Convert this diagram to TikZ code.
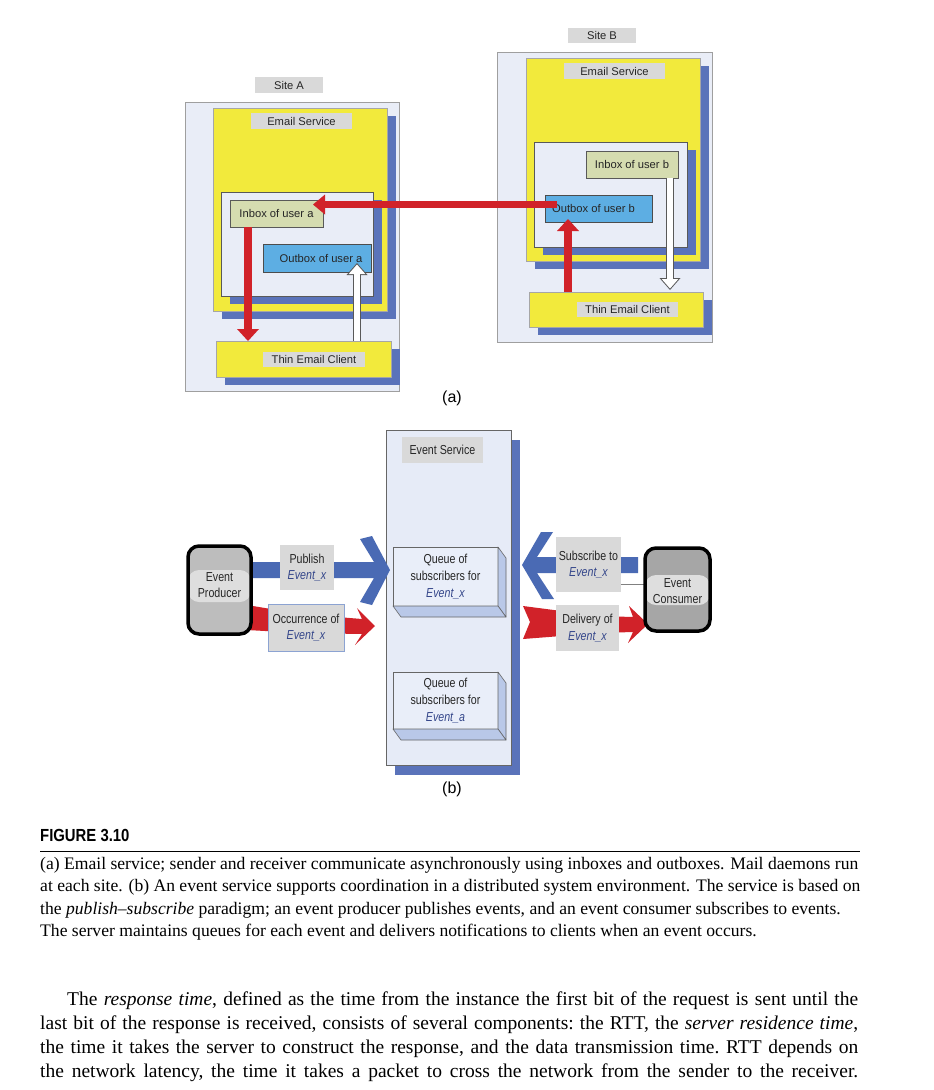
\documentclass[tikz,border=0pt]{standalone}
\usepackage{fontspec}
\setmainfont{Liberation Serif}
\newfontfamily\arialf{Liberation Sans}
\newfontfamily\narrowf[FakeStretch=0.82]{Liberation Sans}
\newfontfamily\figf[FakeStretch=0.85]{Liberation Sans}
\newfontfamily\bodyf{Liberation Serif}
\usetikzlibrary{calc,shadows,arrows.meta}
\pgfdeclarelayer{front}
\pgfsetlayers{main,front}
\definecolor{ylw}{HTML}{F2EA3C}
\definecolor{shblue}{HTML}{5A73BA}
\definecolor{pale}{HTML}{E9EDF7}
\definecolor{pale2}{HTML}{E6EBF7}
\definecolor{lgray}{HTML}{D9D9D9}
\definecolor{ingreen}{HTML}{D5DCB0}
\definecolor{outblue}{HTML}{5DAEE3}
\definecolor{redA}{HTML}{D12229}
\definecolor{chevblue}{HTML}{4A6AB4}
\definecolor{bevel}{HTML}{B9C8E8}
\definecolor{qface}{HTML}{E9EEF9}
\definecolor{evtxt}{HTML}{34468A}
\definecolor{gprod}{HTML}{BDBDBD}
\definecolor{gcons}{HTML}{A6A6A6}
\definecolor{gband}{HTML}{DEDEDE}
\definecolor{occborder}{HTML}{8CA3D2}
\newcommand{\evx}[1]{{\itshape\color{evtxt}Event\_#1}}
\tikzset{
  rect/.style={rectangle, inner sep=0pt, outer sep=0pt},
  bshadow/.style={drop shadow={shadow xshift=9pt, shadow yshift=-8pt, fill=shblue, opacity=1}},
  afont/.style={font=\arialf\fontsize{11.2pt}{13pt}\selectfont, text=black!85},
  bfont/.style={font=\narrowf\fontsize{13pt}{16.7pt}\selectfont, text=black!85, align=center},
  outerpanel/.style={rect, fill=pale, draw=gray!75, line width=0.9pt},
  yellowbox/.style={rect, fill=ylw, draw=gray!70, line width=0.6pt, bshadow},
  innerpanel/.style={rect, fill=pale, draw=gray!70!black, line width=0.6pt, bshadow},
  tag/.style={rect, fill=lgray, afont},
  inboxst/.style={rect, fill=ingreen, draw=gray!70!black, line width=0.6pt, afont},
  outboxst/.style={rect, fill=outblue, draw=gray!60!black, line width=0.6pt, afont},
  redarr/.style={draw=redA, line width=7.5pt, -{Triangle[width=22pt,length=12pt,line width=0pt]}},
  redarrh/.style={draw=redA, line width=7pt, -{Triangle[width=20pt,length=12pt,line width=0pt]}},
  whiteout/.style={draw=gray!70!black, line width=7.5pt, -{Triangle[width=21pt,length=12pt,line width=0pt]}},
  whitein/.style={draw=white, line width=5.5pt, shorten >=1.5pt, -{Triangle[width=16.6pt,length=9.5pt,line width=0pt]}},
  evpanel/.style={rect, fill=pale2, draw=gray!80!black, line width=0.7pt, drop shadow={shadow xshift=9pt, shadow yshift=-10pt, fill=shblue, opacity=1}},
  qbox/.style={rect, fill=qface, draw=gray!80!black, line width=0.6pt, bfont},
  bevelst/.style={fill=bevel, draw=gray!80!black, line width=0.6pt, line join=round},
  btag/.style={rect, fill=lgray, bfont},
  evbox/.style={rect, rounded corners=11pt, draw=black, line width=3.5pt},
  chev/.style={fill=chevblue},
  ribbon/.style={fill=redA},
  sublbl/.style={font=\arialf\fontsize{16pt}{18pt}\selectfont},
  capline/.style={anchor=base west, inner sep=0pt, font=\fontsize{17.6pt}{22pt}\selectfont},
  bodyline/.style={anchor=base west, inner sep=0pt, font=\bodyf\fontsize{19.5pt}{24pt}\selectfont}
}
\begin{document}
\begin{tikzpicture}[x=1pt,y=-1pt]
\useasboundingbox[fill=white] (0,0) rectangle (934,1090);

% ---------------- Site A ----------------
\node[outerpanel, minimum width=214pt, minimum height=289pt] (outerA) at (292,246.5) {};
\node[tag, minimum width=68pt, minimum height=16pt] (siteA) at (289,85) {Site A};
\node[yellowbox, minimum width=174pt, minimum height=203pt] (esA) at (300,209.5) {};
\node[tag, minimum width=101pt, minimum height=16pt] (esAt) at (301.5,121) {Email Service};
\node[innerpanel, minimum width=152pt, minimum height=104pt] (ipA) at (297,244) {};
\node[inboxst, minimum width=93pt, minimum height=27pt] (inA) at (276.5,213.5) {Inbox of user a};
\node[outboxst, minimum width=108pt, minimum height=28pt] (outA) at (317,258) {\hspace*{8pt}Outbox of user a};
\node[yellowbox, minimum width=175pt, minimum height=36pt] (tecA) at (303.5,359) {};
\node[tag, minimum width=102pt, minimum height=15pt] (tecAt) at (314,359.5) {Thin Email Client};

% ---------------- Site B ----------------
\node[outerpanel, minimum width=215pt, minimum height=290pt] (outerB) at (604.5,197) {};
\node[tag, minimum width=68pt, minimum height=15pt] (siteB) at (602,35.5) {Site B};
\node[yellowbox, minimum width=174pt, minimum height=203pt] (esB) at (613,159.5) {};
\node[tag, minimum width=101pt, minimum height=16pt] (esBt) at (614.5,71) {Email Service};
\node[innerpanel, minimum width=153pt, minimum height=105pt] (ipB) at (610.5,194.5) {};
\node[inboxst, minimum width=92pt, minimum height=27pt] (inB) at (632,164.5) {Inbox of user b};
\node[outboxst, minimum width=107pt, minimum height=27pt] (outB) at (598.5,208.5) {Outbox of user b\hspace*{10pt}};
\node[yellowbox, minimum width=174pt, minimum height=35pt] (tecB) at (616,309.5) {};
\node[tag, minimum width=101pt, minimum height=15pt] (tecBt) at (627.5,309.5) {Thin Email Client};

% ---------------- arrows (a) ----------------
\coordinate (ra) at ([xshift=18pt]inA.south west);
\draw[redarr] (ra) -- (ra |- tecA.north);
\coordinate (wa) at ([xshift=-14pt]outA.south east);
\coordinate (wa0) at (wa |- tecA.north);
\draw[whiteout] (wa0) -- ([yshift=9pt]wa);
\draw[whitein] (wa0) -- ([yshift=9pt]wa);
\coordinate (rb) at ([xshift=23pt]outB.south west);
\draw[redarr] (rb |- tecB.north) -- ([yshift=3pt]rb);
\coordinate (wb) at ([xshift=-8pt]inB.south east);
\coordinate (wb2) at (wb |- tecB.north);
\draw[whiteout] (wb) -- ([yshift=2pt]wb2);
\draw[whitein] (wb) -- ([yshift=2pt]wb2);
\coordinate (rs) at ([xshift=12pt,yshift=4pt]outB.west);
\coordinate (re0) at (rs -| inA.east);
\coordinate (re) at ([xshift=-10pt]re0);
\draw[redarrh] (rs) -- (re);

\node[sublbl] (lblA) at (452,398) {(a)};

% ---------------- (b) ----------------
\node[evpanel, minimum width=125pt, minimum height=335pt] (svc) at (448.5,597.5) {};
\node[btag, minimum width=81pt, minimum height=26pt] (svct) at (442.5,450) {Event Service};
\node[qbox, minimum width=105pt, minimum height=59pt] (qx) at (445.5,576.5) {Queue of\\subscribers for\\\evx{x}};
\node[qbox, minimum width=105pt, minimum height=57pt] (qa) at (445.5,700.5) {Queue of\\subscribers for\\\evx{a}};
\foreach \q in {qx,qa}{
  \filldraw[bevelst] (\q.north east) -- ($(\q.north east)+(8,11)$) -- ($(\q.south east)+(8,11)$) -- (\q.south east) -- cycle;
  \filldraw[bevelst] (\q.south west) -- (\q.south east) -- ($(\q.south east)+(8,11)$) -- ($(\q.south west)+(8,11)$) -- cycle;
}

\begin{pgfonlayer}{front}
\node[evbox, fill=gprod, minimum width=63pt, minimum height=88pt,
  path picture={\fill[gband] ([yshift=20pt]path picture bounding box.west) rectangle ([yshift=-12pt]path picture bounding box.east);}] (prod) at (219.5,590) {};
\node[bfont] (prodt) at (219.5,585) {Event\\Producer};
\node[evbox, fill=gcons, minimum width=65pt, minimum height=83pt,
  path picture={\fill[gband] ([yshift=14.5pt]path picture bounding box.west) rectangle ([yshift=-15.5pt]path picture bounding box.east);}] (cons) at (677.5,589.5) {};
\node[bfont] (const) at (677.5,591) {Event\\Consumer};
\end{pgfonlayer}

% publish chevron
\coordinate (pubY) at (0,570);
\coordinate (ps) at (prod.east |- pubY);
\coordinate (pt) at ([xshift=-3pt]qx.west |- pubY);
\fill[chev] ($(ps)+(0,-8)$) -- ($(pt)+(-16,-8)$) -- ($(pt)+(-30,-31)$) -- ($(pt)+(-18,-34)$) -- (pt)
  -- ($(pt)+(-18,35)$) -- ($(pt)+(-30,32)$) -- ($(pt)+(-16,8)$) -- ($(ps)+(0,8)$) -- cycle;
% occurrence ribbon
\coordinate (occY) at (0,626);
\coordinate (ps2) at (prod.east |- occY);
\coordinate (ot) at ([xshift=-11pt]svc.west |- occY);
\fill[ribbon] ($(ps2)+(-4,-21)$) -- ($(ps2)+(50,-12)$) -- ($(ot)+(-13,-7)$) -- ($(ot)+(-18,-18)$) -- (ot)
  -- ($(ot)+(-20,19)$) -- ($(ot)+(-13,8)$) -- ($(ps2)+(50,7)$) -- ($(ps2)+(-4,4)$) -- cycle;
% subscribe chevron
\coordinate (subY) at (0,565);
\coordinate (st) at ([xshift=11pt]svc.east |- subY);
\coordinate (se) at ([xshift=-7pt]cons.west |- subY);
\fill[chev] ($(se)+(0,-8)$) -- ($(st)+(15,-8)$) -- ($(st)+(31,-33)$) -- ($(st)+(19,-33)$) -- (st)
  -- ($(st)+(20,34)$) -- ($(st)+(32,34)$) -- ($(st)+(15,8)$) -- ($(se)+(0,8)$) -- cycle;
% delivery ribbon
\coordinate (delY) at (0,624);
\coordinate (dl) at ([xshift=12pt]svc.east |- delY);
\coordinate (dt) at ([xshift=3pt]cons.west |- delY);
\fill[ribbon] ($(dl)+(0,-18)$) -- ($(dl)+(77,-8)$) -- ($(dt)+(-15,-7)$) -- ($(dt)+(-19,-18)$) -- (dt)
  -- ($(dt)+(-20,19)$) -- ($(dt)+(-15,8)$) -- ($(dl)+(77,9)$) -- ($(dl)+(0,15)$) -- ($(dl)+(7,-2)$) -- cycle;

% labels on the connectors
\node[btag, minimum width=54pt, minimum height=45pt] (pubt) at (307,567.5) {Publish\\\evx{x}};
\node[btag, draw=occborder, line width=0.8pt, minimum width=76pt, minimum height=47pt] (occt) at (306,627.5) {Occurrence of\\\evx{x}};
\node[btag, minimum width=65pt, minimum height=55pt] (subt) at (588.5,564.5) {Subscribe to\\\evx{x}};
\node[btag, minimum width=63pt, minimum height=46pt] (delt) at (587.5,628) {Delivery of\\\evx{x}};
\coordinate (gl) at ([yshift=-19.5pt]subt.east);
\draw[gray, line width=0.8pt] (gl) -- (gl -| cons.west);

\node[sublbl] (lblB) at (452,789) {(b)};

% ---------------- caption ----------------
\node[anchor=base west, inner sep=0pt, font=\figf\bfseries\fontsize{17.5pt}{20pt}\selectfont] (figlbl) at (40,841) {FIGURE 3.10};
\draw[line width=0.9pt] (40,851) -- (860,851);
\node[capline] (c1) at (40,869) {(a) Email service; sender and receiver communicate asynchronously using inboxes and outboxes. Mail daemons run};
\node[capline] (c2) at (40,891.5) {at each site. (b) An event service supports coordination in a distributed system environment. The service is based on};
\node[capline] (c3) at (40,914) {the \textit{publish–subscribe} paradigm; an event producer publishes events, and an event consumer subscribes to events.};
\node[capline] (c4) at (40,936.5) {The server maintains queues for each event and delivers notifications to clients when an event occurs.};

% ---------------- body text ----------------
\node[bodyline] (t1) at (67,1005) {\frenchspacing\spaceskip=0.25em plus 1em minus 0.15em\hbox to 791pt{The \textit{response time}, defined as the time from the instance the first bit of the request is sent until the}};
\node[bodyline] (t2) at (40,1029) {\frenchspacing\spaceskip=0.25em plus 1em minus 0.15em\hbox to 818pt{last bit of the response is received, consists of several components: the RTT, the \textit{server residence time},}};
\node[bodyline] (t3) at (40,1053) {\frenchspacing\spaceskip=0.25em plus 1em minus 0.15em\hbox to 818pt{the time it takes the server to construct the response, and the data transmission time. RTT depends on}};
\node[bodyline] (t4) at (40,1077) {\frenchspacing\spaceskip=0.25em plus 1em minus 0.15em\hbox to 818pt{the network latency, the time it takes a packet to cross the network from the sender to the receiver.}};
\end{tikzpicture}
\end{document}
